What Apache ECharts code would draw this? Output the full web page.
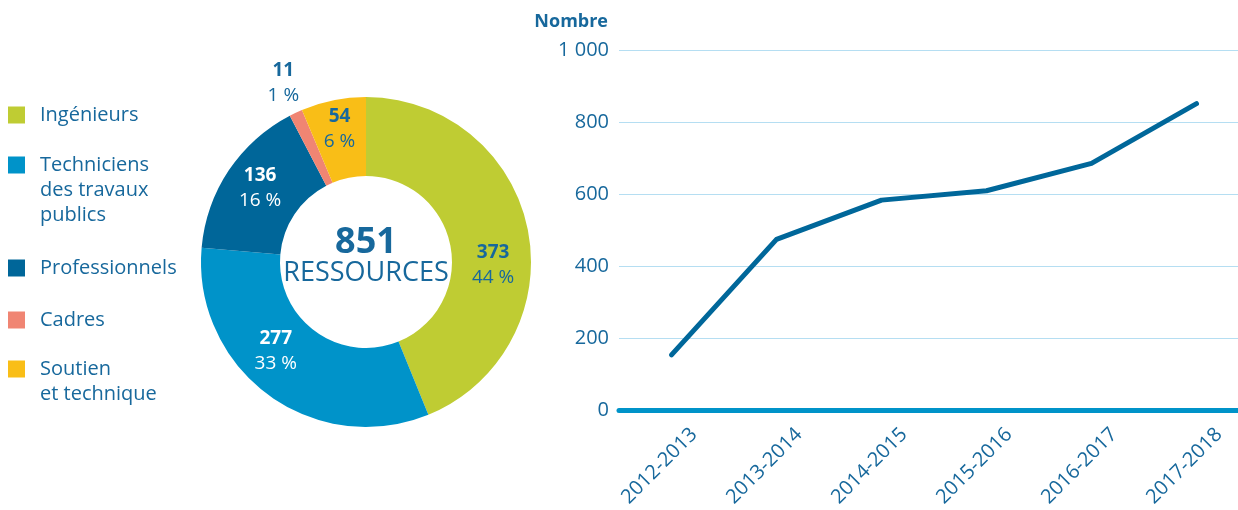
<!DOCTYPE html>
<html>
<head>
<meta charset="utf-8">
<script src="https://cdn.jsdelivr.net/npm/echarts@6/dist/echarts.min.js"></script>
<style>
  html, body { margin: 0; padding: 0; background: #fff; }
  #chart { width: 1238px; height: 510px; }
</style>
</head>
<body>
<div id="chart"></div>
<script>
// répartition des ressources (anneau)
const categories = ['Ingénieurs', 'Techniciens\ndes travaux\npublics', 'Professionnels', 'Cadres', 'Soutien\net technique'];
const ressources = [373, 277, 136, 11, 54];

// évolution du nombre de ressources (courbe)
const annees = ['2012-2013', '2013-2014', '2014-2015', '2015-2016', '2016-2017', '2017-2018'];
const nombre = [153, 474, 583, 609, 685, 851];
const yMin = 0;
const yMax = 1000;
const yStep = 200;

// styles
const font = 'Open Sans';
const textColor = '#17689c';
const colors = ['#bfcc33', '#0093c9', '#006699', '#f08573', '#f9be17'];
const labelColors = [textColor, '#ffffff', '#ffffff', textColor, textColor];
// petit décalage des étiquettes par rapport à la position par défaut
const labelShift = [[1, 28], [-14, -14], [1, -3], [-28, -63], [-1, -7]];
// centre vertical de chaque pastille de légende
const legendCenters = [115, 165, 268, 320, 369];
const lineH = 25;

const total = ressources.reduce((a, b) => a + b, 0);

const fmtNombre = (v) => String(v).replace(/\B(?=(\d{3})+(?!\d))/g, ' ');

// la pastille reste en face de la première ligne : on ajoute des lignes vides au-dessus
const legends = categories.map((name, i) => {
  const lines = name.split('\n').length;
  const boxH = (2 * lines - 1) * lineH;
  return {
    data: [name],
    orient: 'vertical',
    left: 8,
    top: legendCenters[i] - boxH / 2,
    padding: 0,
    icon: 'rect',
    itemWidth: 17,
    itemHeight: 17,
    selectedMode: false,
    formatter: (n) => '\n'.repeat(lines - 1) + n,
    textStyle: { color: textColor, fontSize: 20, lineHeight: lineH, fontFamily: font, padding: [0, 0, 0, 10] }
  };
});

const chart = echarts.init(document.getElementById('chart'));

chart.setOption({
  animation: false,
  textStyle: { fontFamily: font },
  legend: legends,
  graphic: [
    {
      type: 'text', x: 366, y: 243,
      style: {
        text: fmtNombre(total), fill: textColor,
        font: 'bold 36px "Open Sans"',
        align: 'center', verticalAlign: 'middle',
        textAlign: 'center', textVerticalAlign: 'middle'
      }
    },
    {
      type: 'text', x: 366, y: 273,
      style: {
        text: 'RESSOURCES', fill: textColor,
        font: '27px "Open Sans"',
        align: 'center', verticalAlign: 'middle',
        textAlign: 'center', textVerticalAlign: 'middle'
      }
    }
  ],
  grid: { left: 619, top: 50, width: 630, height: 360, outerBoundsMode: 'none', containLabel: false },
  xAxis: {
    type: 'category',
    data: annees,
    boundaryGap: true,
    axisLine: { show: true, lineStyle: { color: '#0093c9', width: 5, cap: 'round' } },
    axisTick: { show: false },
    axisLabel: {
      interval: 0,
      rotate: 45,
      align: 'center',
      verticalAlign: 'middle',
      margin: 44,
      padding: [0, 34, 0, 0],
      color: textColor,
      fontSize: 20,
      fontFamily: font
    }
  },
  yAxis: {
    type: 'value',
    min: yMin,
    max: yMax,
    interval: yStep,
    name: 'Nombre',
    nameLocation: 'end',
    nameGap: 19,
    nameTextStyle: { color: textColor, fontWeight: 'bold', fontSize: 18, align: 'right', padding: [0, 11, 0, 0], fontFamily: font },
    axisLine: { show: false },
    axisTick: { show: false },
    axisLabel: { color: textColor, fontSize: 20, margin: 10, fontFamily: font, formatter: fmtNombre },
    splitLine: { lineStyle: { color: '#b5def2', width: 1 } }
  },
  series: [
    {
      type: 'pie',
      center: [366, 262],
      radius: [86, 165],
      startAngle: 90,
      clockwise: true,
      avoidLabelOverlap: false,
      emphasis: { scale: false },
      data: categories.map((name, i) => ({
        name: name,
        value: ressources[i],
        itemStyle: { color: colors[i] },
        label: { color: labelColors[i] }
      })),
      label: {
        position: 'inside',
        formatter: (p) => '{v|' + p.value + '}\n{p|' + Math.round(p.value / total * 100) + ' %}',
        rich: {
          v: { fontWeight: 'bold', fontSize: 19, lineHeight: 25, fontFamily: font },
          p: { fontSize: 19, lineHeight: 25, fontFamily: font }
        }
      },
      labelLine: { show: false },
      labelLayout: (p) => ({ dx: labelShift[p.dataIndex][0], dy: labelShift[p.dataIndex][1] })
    },
    {
      type: 'line',
      data: nombre,
      symbol: 'none',
      lineStyle: { color: '#00679a', width: 5, cap: 'round', join: 'round' },
      z: 3
    }
  ]
});
</script>
</body>
</html>
